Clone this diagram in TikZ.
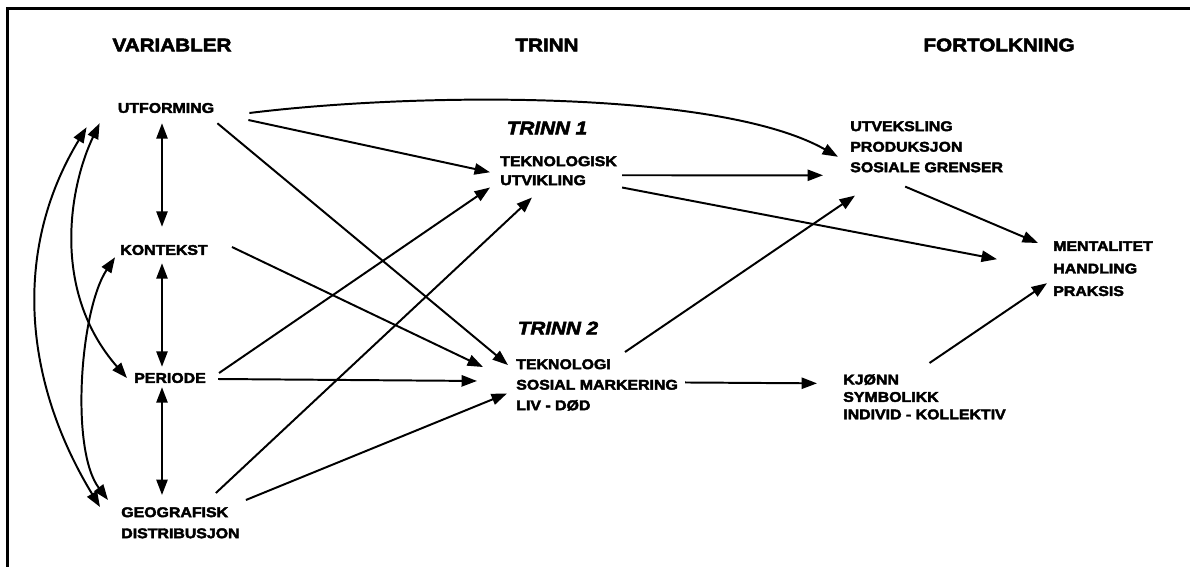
\documentclass[tikz,border=0pt]{standalone}
\usepackage{fontspec}
\setmainfont{Liberation Sans}[FakeStretch = 1.13, FakeBold = 3]
\usepackage{tikz}
\usetikzlibrary{arrows.meta}

\begin{document}
\begin{tikzpicture}[x = 0.025cm, y = -0.025cm,
	lbl/.style = {inner sep = 0pt, font = {\fontsize{10}{14.6}\selectfont\bfseries}, align = left},
	hd/.style = {inner sep = 0pt, font = {\fontsize{13}{15}\selectfont\bfseries}},
	trinn/.style = {inner sep = 0pt, font = {\fontsize{13}{15}\selectfont\bfseries\itshape}},
	arr/.style = {draw, line width = 1.4pt, -{Triangle[length = 11pt, width = 8pt]}},
	darr/.style = {draw, line width = 1.4pt, {Triangle[length = 11pt, width = 8pt]}-{Triangle[length = 11pt, width = 8pt]}}]

	\useasboundingbox (0, 0) rectangle (1190, 567);
	\draw[line width = 2pt] (1190, 8.5) -- (7.5, 8.5) -- (7.5, 567);

	\node[hd] (h1) at (172, 45) {VARIABLER};
	\node[hd] (h2) at (547, 45) {TRINN};
	\node[hd] (h3) at (999, 45) {FORTOLKNING};

	\node[lbl] (v1) at (166, 108) {UTFORMING};
	\node[lbl] (v2) at (164, 250) {KONTEKST};
	\node[lbl] (v3) at (170, 378) {PERIODE};
	\node[lbl, anchor = north west, font = {\fontsize{10}{15}\selectfont\bfseries}] (v4) at (121, 507) {GEOGRAFISK\\DISTRIBUSJON};

	\node[trinn] (t1) at (547, 128) {TRINN 1};
	\node[lbl, anchor = north west, font = {\fontsize{10}{13.5}\selectfont\bfseries}] (s1) at (500, 156) {TEKNOLOGISK\\UTVIKLING};
	\node[trinn] (t2) at (558, 328) {TRINN 2};
	\node[lbl, anchor = north west] (s2) at (516, 359) {TEKNOLOGI\\SOSIAL MARKERING\\LIV - DØD};

	\node[lbl, anchor = north west] (f1) at (850, 121) {UTVEKSLING\\PRODUKSJON\\SOSIALE GRENSER};
	\node[lbl, anchor = north west, font = {\fontsize{10}{16}\selectfont\bfseries}] (f2) at (1053, 241) {MENTALITET\\HANDLING\\PRAKSIS};
	\node[lbl, anchor = north west, font = {\fontsize{10}{12.4}\selectfont\bfseries}] (f3) at (843, 374) {KJØNN\\SYMBOLIKK\\INDIVID - KOLLEKTIV};

	% variabler seg imellom
	\path[darr] ([shift = {(-4, 10)}]v1.south) -- ([shift = {(-2, -18)}]v2.north);
	\path[darr] ([shift = {(-2, 8)}]v2.south) -- ([shift = {(-8, -6)}]v3.north);
	\path[darr] ([shift = {(-8, 4)}]v3.south) -- ([shift = {(41, -12)}]v4.north west);

	\path[darr] ([shift = {(-31, 14)}]v1.south west) .. controls (15, 245) and (20, 375) .. ([shift = {(-21, 0)}]v4.north west);
	\path[darr] ([shift = {(-18, 10)}]v1.south west) .. controls (70, 185) and (50, 290) .. ([shift = {(-7, 0)}]v3.west);
	\path[darr] ([shift = {(-5, 2)}]v2.south west) .. controls (80, 310) and (70, 450) .. ([shift = {(-13, -7)}]v4.north west);

	\path[arr] ([shift = {(35, 5)}]v1.east) .. controls (420, 92) and (720, 90) .. ([shift = {(-12, 10)}]f1.west);

	\path
	([shift = {(34, 12)}]v1.east) edge[arr] ([shift = {(-10, 1.5)}]s1.west)
	([shift = {(3, 10)}]v1.south east) edge[arr] ([shift = {(-8, 6)}]s2.north west)
	([shift = {(24, -3)}]v2.east) edge[arr] ([shift = {(-33, 8)}]s2.north west)
	([shift = {(13, -5)}]v3.east) edge[arr] ([shift = {(-10, 2)}]s1.south west)
	([shift = {(12, 1)}]v3.east) edge[arr] ([shift = {(-39, -4)}]s2.west)
	([shift = {(-24, -14)}]v4.north east) edge[arr] ([shift = {(32, 12)}]s1.south west)
	([shift = {(6, -7)}]v4.north east) edge[arr] ([shift = {(-9, 8.5)}]s2.west)

	([shift = {(5, 4.5)}]s1.east) edge[arr] ([shift = {(-27, 28.5)}]f1.west)
	([shift = {(5, 2)}]s1.south east) edge[arr] ([shift = {(-56, -9.5)}]f2.west)
	([shift = {(109, -7)}]s2.north west) edge[arr] ([shift = {(5, 23)}]f1.south west)
	([shift = {(7, -2.5)}]s2.east) edge[arr] ([shift = {(-26, -13.5)}]f3.west)

	([shift = {(-21.5, 14)}]f1.south) edge[arr] ([shift = {(-15, 2)}]f2.north west)
	([shift = {(5, -11)}]f3.north) edge[arr] ([shift = {(-6, 14.5)}]f2.west);

\end{tikzpicture}
\end{document}
